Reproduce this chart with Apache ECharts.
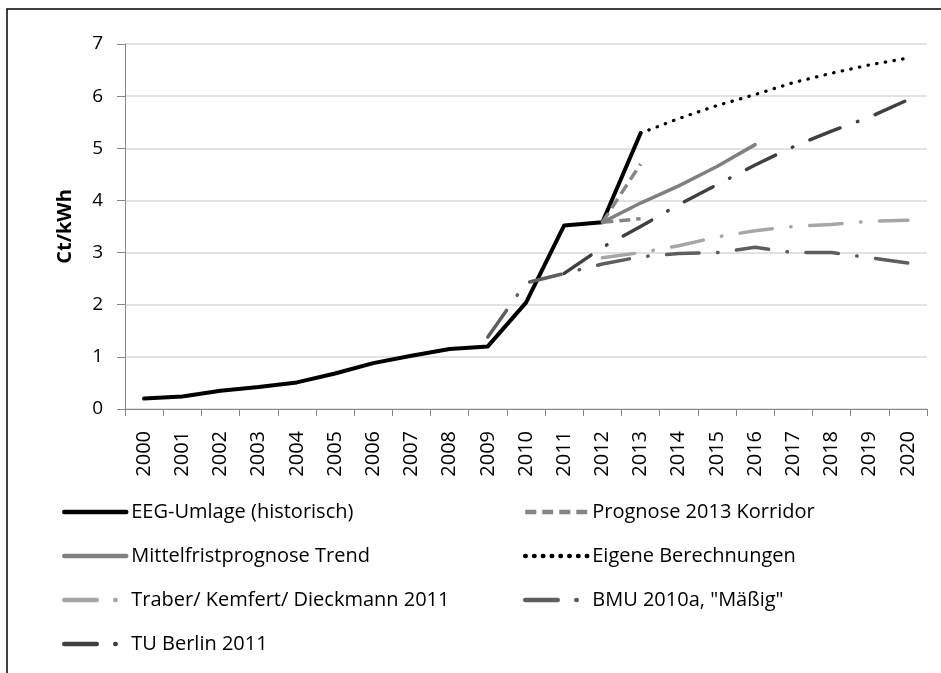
<!DOCTYPE html>
<html>
<head>
<meta charset="utf-8">
<script src="https://cdn.jsdelivr.net/npm/echarts@6/dist/echarts.min.js"></script>
<style>
    html, body { margin: 0; padding: 0; background: #fff; }
    #chart { width: 941px; height: 673px; }
</style>
</head>
<body>
<div id="chart"></div>
<script>
    // Jahre und Werte (Ct/kWh)
    var years = ['2000','2001','2002','2003','2004','2005','2006','2007','2008','2009','2010',
        '2011','2012','2013','2014','2015','2016','2017','2018','2019','2020'];
    var yTicks = [0, 7, 1]; // min, max, interval

    var eeg = [0.2, 0.24, 0.35, 0.42, 0.51, 0.68, 0.88, 1.02, 1.15, 1.2, 2.04,
        3.52, 3.58, 5.29, null, null, null, null, null, null, null];
    var korridorHoch = [null, null, null, null, null, null, null, null, null, null, null,
        null, 3.58, 4.7, null, null, null, null, null, null, null];
    var korridorTief = [null, null, null, null, null, null, null, null, null, null, null,
        null, 3.58, 3.65, null, null, null, null, null, null, null];
    var mittelfrist = [null, null, null, null, null, null, null, null, null, null, null,
        null, 3.58, 3.95, 4.28, 4.65, 5.07, null, null, null, null];
    var eigene = [null, null, null, null, null, null, null, null, null, null, null,
        null, null, 5.29, 5.57, 5.82, 6.03, 6.26, 6.44, 6.6, 6.73];
    var traber = [null, null, null, null, null, null, null, null, null, null, null,
        null, 2.9, 3.0, 3.13, 3.3, 3.42, 3.5, 3.54, 3.6, 3.62];
    var bmu = [null, null, null, null, null, null, null, null, null, 1.38, 2.42,
        2.6, 2.78, 2.92, 2.98, 3.0, 3.1, 3.0, 3.0, 2.9, 2.8];
    var tuBerlin = [null, null, null, null, null, null, null, null, null, null, null,
        2.6, 3.1, 3.5, 3.92, 4.3, 4.68, 5.03, 5.33, 5.6, 5.93];

    var font = '"Open Sans", "Noto Sans", sans-serif';
    var dashDot = [32.5, 18.5, 0.5, 18.5];

    function line(name, data, color, width, type, cap) {
        return {
            name: name,
            type: 'line',
            data: data,
            symbol: 'none',
            smooth: false,
            lineStyle: { color: color, width: width, type: type, cap: cap || 'round', join: 'round' },
            itemStyle: { color: color }
        };
    }

    function legendCol(left, names) {
        return {
            orient: 'vertical',
            left: left, top: 502,
            padding: 0,
            itemWidth: 62, itemHeight: 20, itemGap: 24,
            itemStyle: { opacity: 0 },
            lineStyle: { width: 4.5 },
            textStyle: { fontFamily: font, fontSize: 20, lineHeight: 20, color: '#000' },
            data: names
        };
    }

    var chart = echarts.init(document.getElementById('chart'));
    chart.setOption({
        animation: false,
        backgroundColor: '#fff',
        graphic: [{
            type: 'rect',
            shape: { x: 7, y: 9, width: 1000, height: 1000 },
            style: { fill: 'none', stroke: '#000', lineWidth: 1.5 },
            silent: true
        }],
        grid: { left: 125, right: 14, top: 44, bottom: 264 },
        legend: [
            legendCol(62, ['EEG-Umlage (historisch)', 'Mittelfristprognose Trend',
                'Traber/ Kemfert/ Dieckmann 2011', 'TU Berlin 2011']),
            legendCol(523, ['Prognose 2013 Korridor', 'Eigene Berechnungen', 'BMU 2010a, "Mäßig"'])
        ],
        xAxis: {
            type: 'category',
            data: years,
            boundaryGap: true,
            axisLine: { lineStyle: { color: '#868686', width: 1 } },
            axisTick: { show: true, length: 7, lineStyle: { color: '#868686' } },
            axisLabel: { rotate: 90, margin: 22, fontFamily: font, fontSize: 20, color: '#000', interval: 0 }
        },
        yAxis: {
            type: 'value',
            min: yTicks[0], max: yTicks[1], interval: yTicks[2],
            name: 'Ct/kWh',
            nameLocation: 'middle',
            nameGap: 50,
            nameTextStyle: { fontFamily: font, fontSize: 20, fontWeight: 'bold', color: '#000' },
            axisLine: { show: true, lineStyle: { color: '#868686', width: 1 } },
            axisTick: { show: true, length: 8, lineStyle: { color: '#868686' } },
            axisLabel: { margin: 22, fontFamily: font, fontSize: 19, color: '#000' },
            splitLine: { lineStyle: { color: '#d9d9d9', width: 1.5 } }
        },
        series: [
            line('EEG-Umlage (historisch)', eeg, '#000000', 4, 'solid'),
            line('Prognose 2013 Korridor', korridorHoch, '#858585', 3.5, [11, 6], 'butt'),
            line('Prognose 2013 Korridor', korridorTief, '#858585', 3.5, [11, 6], 'butt'),
            line('Mittelfristprognose Trend', mittelfrist, '#808080', 3.5, 'solid'),
            line('Eigene Berechnungen', eigene, '#000000', 3.2, [0.5, 8.3]),
            line('Traber/ Kemfert/ Dieckmann 2011', traber, '#a6a6a6', 3.5, dashDot),
            line('BMU 2010a, "Mäßig"', bmu, '#5e5e5e', 3.5, dashDot),
            line('TU Berlin 2011', tuBerlin, '#404040', 3.5, dashDot)
        ]
    });
</script>
</body>
</html>
